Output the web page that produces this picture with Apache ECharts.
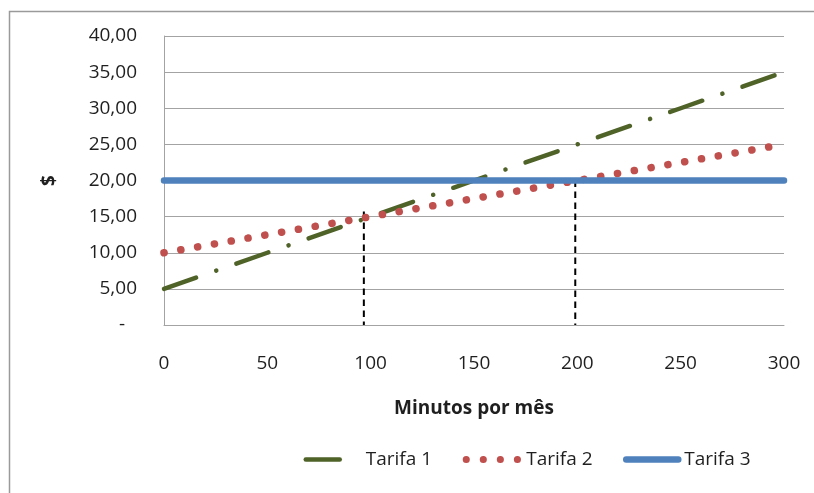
<!DOCTYPE html>
<html>
<head>
<meta charset="utf-8">
<title>Tarifas</title>
<script src="https://cdn.jsdelivr.net/npm/echarts@6/dist/echarts.min.js"></script>
<style>
  html, body { margin: 0; padding: 0; background: #fff; }
  #chart { width: 814px; height: 493px; }
</style>
</head>
<body>
<div id="chart"></div>
<script>
// Minutes per month and the monthly cost of each plan
const minutos = [0, 50, 100, 150, 200, 250, 300];
const tarifa1 = [5, 10, 15, 20, 25, 30, 35];
const tarifa2 = [10, 12.5, 15, 17.5, 20, 22.5, 25];
const tarifa3 = [20, 20, 20, 20, 20, 20, 20];
const nomes = ['Tarifa 1', 'Tarifa 2', 'Tarifa 3'];

// Dashed guide lines dropped from the crossing points: [x, top value]
const guias = [[96.7, 15.7], [199, 20]];

const FONT = 'Open Sans';
const FS = 19;
const TXT = '#1f1f1f';
const GRID = '#a3a3a3';

function pares(xs, ys) { return xs.map((x, i) => [x, ys[i]]); }

function fmtY(v) {
  if (v === 0) return '{z|-}';
  return v.toFixed(2).replace('.', ',');
}

const chart = echarts.init(document.getElementById('chart'), null, { renderer: 'canvas' });

const guideSeries = guias.map((g, i) => ({
  name: 'guia' + i,
  type: 'line',
  data: [[g[0], g[1]], [g[0], 0]],
  symbol: 'none',
  silent: true,
  lineStyle: { color: '#000', width: 2, type: [6.5, 4.5], cap: 'butt' },
  z: 1
}));

function legenda(name, left, iconW, lineW, padLeft) {
  return {
    data: [name],
    left: left,
    top: 450,
    padding: 0,
    itemWidth: iconW,
    itemHeight: 14,
    selectedMode: false,
    lineStyle: { width: lineW },
    itemStyle: { color: 'rgba(0,0,0,0)', borderWidth: 0, opacity: 0 },
    textStyle: { fontFamily: FONT, fontSize: FS, color: TXT, padding: [0, 0, 0, padLeft] }
  };
}

chart.setOption({
  animation: false,
  backgroundColor: '#fff',
  textStyle: { fontFamily: FONT },
  grid: { left: 164, top: 36, right: 30, bottom: 168, containLabel: false },
  xAxis: {
    type: 'value',
    min: 0, max: 300, interval: 50,
    name: 'Minutos por mês',
    nameLocation: 'middle',
    nameGap: 74,
    nameTextStyle: { fontFamily: FONT, fontSize: FS, fontWeight: 'bold', color: TXT },
    axisLine: { show: true, lineStyle: { color: GRID, width: 1 } },
    axisTick: { show: false },
    splitLine: { show: false },
    axisLabel: { margin: 29, fontFamily: FONT, fontSize: FS, color: TXT }
  },
  yAxis: {
    type: 'value',
    min: 0, max: 40, interval: 5,
    name: '$',
    nameLocation: 'middle',
    nameRotate: 90,
    nameGap: 105,
    nameTextStyle: { fontFamily: FONT, fontSize: FS, fontWeight: 'bold', color: TXT },
    axisLine: { show: true, lineStyle: { color: GRID, width: 1 } },
    axisTick: { show: false },
    splitLine: { show: true, lineStyle: { color: GRID, width: 1 } },
    axisLabel: {
      margin: 27, fontFamily: FONT, fontSize: FS, color: TXT,
      formatter: fmtY,
      rich: { z: { fontFamily: FONT, fontSize: FS, color: TXT, padding: [0, 12, 0, 0] } }
    }
  },
  legend: [
    legenda(nomes[0], 303.5, 35, 4.5, 20),
    legenda(nomes[1], 462.7, 52, 7, 3),
    legenda(nomes[2], 623, 52, 6.5, 1)
  ],
  graphic: [{
    type: 'rect',
    shape: { x: 9.5, y: 11.5, width: 1000, height: 1000 },
    style: { fill: 'none', stroke: '#9a9a9a', lineWidth: 1.5 },
    silent: true,
    z: -10
  }],
  series: guideSeries.concat([
    {
      name: nomes[0],
      type: 'line',
      data: pares(minutos, tarifa1),
      symbol: 'none',
      color: '#4f6228',
      lineStyle: { color: '#4f6228', width: 4.5, type: [34, 21.3, 0.1, 21.2], cap: 'round' },
      z: 2
    },
    {
      name: nomes[1],
      type: 'line',
      data: pares(minutos, tarifa2),
      symbol: 'none',
      color: '#c0504d',
      lineStyle: { color: '#c0504d', width: 7.5, type: [0.1, 16.95], cap: 'round' },
      z: 3
    },
    {
      name: nomes[2],
      type: 'line',
      data: pares(minutos, tarifa3),
      symbol: 'none',
      color: '#4f81bd',
      lineStyle: { color: '#4f81bd', width: 6.5, cap: 'round' },
      z: 4
    }
  ])
});
</script>
</body>
</html>
